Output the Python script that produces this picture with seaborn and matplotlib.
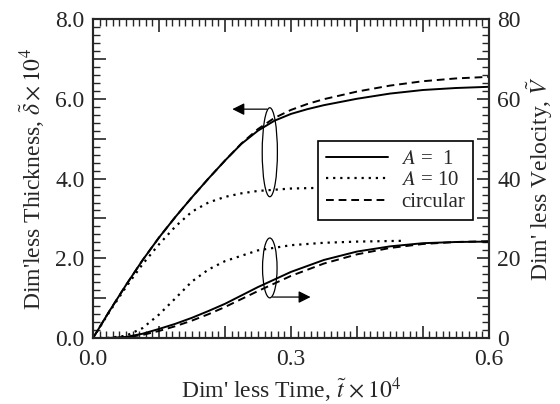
import numpy as np
import pandas as pd
import seaborn as sns
import matplotlib.pyplot as plt
from matplotlib.patches import Ellipse
from matplotlib.lines import Line2D
from matplotlib.ticker import MultipleLocator, FuncFormatter

# dati (tempo adimensionale x1e4)
t = [0, 0.025, 0.05, 0.075, 0.1, 0.125, 0.15, 0.175, 0.2, 0.225, 0.25,
     0.275, 0.3, 0.325, 0.35, 0.4, 0.45, 0.5, 0.55, 0.6]
spessore_A1 = [0, 0.68, 1.33, 1.95, 2.52, 3.04, 3.53, 4.0, 4.45, 4.87, 5.2,
               5.45, 5.62, 5.74, 5.84, 6.0, 6.13, 6.22, 6.27, 6.3]
spessore_circ = [0, 0.68, 1.33, 1.95, 2.52, 3.04, 3.53, 4.0, 4.45, 4.88, 5.24,
                 5.52, 5.72, 5.87, 5.99, 6.18, 6.33, 6.44, 6.51, 6.55]

t_A10 = [0, 0.025, 0.05, 0.075, 0.1, 0.125, 0.15, 0.175, 0.2, 0.225, 0.25,
         0.3, 0.35, 0.4, 0.47]
spessore_A10 = [0, 0.66, 1.28, 1.85, 2.35, 2.8, 3.17, 3.4, 3.54, 3.63, 3.69,
                3.75, 3.77, 3.78, 3.78]

t_v = [0, 0.025, 0.05, 0.075, 0.1, 0.125, 0.15, 0.175, 0.2, 0.25, 0.3,
       0.35, 0.4, 0.45, 0.5, 0.55, 0.6]
vel_A1 = [0, 0.05, 0.3, 1.1, 2.3, 3.6, 5.1, 6.8, 8.6, 12.8, 16.6,
          19.6, 21.7, 23.0, 23.8, 24.1, 24.2]
vel_circ = [0, 0.03, 0.2, 0.8, 1.8, 3.0, 4.4, 6.0, 7.8, 11.8, 15.6,
            18.7, 21.0, 22.6, 23.6, 24.1, 24.3]

t_v10 = [0, 0.025, 0.05, 0.075, 0.1, 0.125, 0.15, 0.175, 0.2, 0.25, 0.3,
         0.35, 0.4, 0.47]
vel_A10 = [0, 0.1, 0.6, 2.5, 5.9, 10, 14.2, 17.2, 19.3, 22, 23.3,
           23.9, 24.2, 24.4]

etichette = ['$A$ =  1', '$A$ = 10', 'circular']

sns.set_style('ticks')
plt.rcParams['font.family'] = ['Liberation Serif', 'DejaVu Serif']
plt.rcParams['mathtext.fontset'] = 'stix'

stili = {'solid': '-', 'dotted': (0, (1, 2.2)), 'dashed': (0, (4, 2.5))}
lw = 1.4

fig = plt.figure(figsize=(5.6, 4.04), dpi=100)
ax = fig.add_axes([0.166, 0.163, 0.707, 0.79])
ax2 = ax.twinx()

sns.lineplot(x=t, y=spessore_A1, ax=ax, color='k', lw=lw, linestyle=stili['solid'])
sns.lineplot(x=t_A10, y=spessore_A10, ax=ax, color='k', lw=1.6, linestyle=stili['dotted'])
sns.lineplot(x=t, y=spessore_circ, ax=ax, color='k', lw=lw, linestyle=stili['dashed'])

sns.lineplot(x=t_v, y=vel_A1, ax=ax2, color='k', lw=lw, linestyle=stili['solid'])
sns.lineplot(x=t_v10, y=vel_A10, ax=ax2, color='k', lw=1.6, linestyle=stili['dotted'])
sns.lineplot(x=t_v, y=vel_circ, ax=ax2, color='k', lw=lw, linestyle=stili['dashed'])

ax.set_xlim(0, 0.6)
ax.set_ylim(0, 8.0)
ax2.set_ylim(0, 80)

fs = 17
ax.xaxis.set_major_locator(MultipleLocator(0.1))
ax.xaxis.set_minor_locator(MultipleLocator(0.01))
ax.xaxis.set_major_formatter(FuncFormatter(
    lambda v, p: f'{v:.1f}' if abs(round(v / 0.3) * 0.3 - v) < 1e-6 else ''))
ax.yaxis.set_major_locator(MultipleLocator(1.0))
ax.yaxis.set_minor_locator(MultipleLocator(0.2))
ax.yaxis.set_major_formatter(FuncFormatter(
    lambda v, p: f'{v:.1f}' if round(v) % 2 == 0 else ''))
ax2.yaxis.set_major_locator(MultipleLocator(10))
ax2.yaxis.set_minor_locator(MultipleLocator(2))
ax2.yaxis.set_major_formatter(FuncFormatter(
    lambda v, p: f'{v:.0f}' if round(v) % 20 == 0 else ''))

ax.tick_params(axis='x', which='both', direction='in', top=True, labelsize=fs, pad=8)
ax.tick_params(axis='y', which='both', direction='in', right=False, labelsize=fs, pad=6)
ax2.tick_params(axis='y', which='both', direction='in', labelsize=fs, pad=6)
for a in (ax, ax2):
    a.tick_params(which='major', length=9, width=1.2)
    a.tick_params(which='minor', length=5, width=1.0)
    for s in a.spines.values():
        s.set_linewidth(1.5)

ax.set_xlabel(r"Dim' less Time, $\tilde{t}\,\times 10^4$", fontsize=fs, labelpad=4)
ax.set_ylabel(r"Dim'less Thickness, $\tilde{\delta}\times 10^4$", fontsize=fs, labelpad=6)
ax2.set_ylabel(r"Dim' less Velocity, $\tilde{V}$", fontsize=fs, labelpad=3)

# ellissi e frecce
ax.add_patch(Ellipse((0.268, 4.66), 0.023, 2.23, fill=False, lw=0.9, ec='k'))
ax.add_patch(Ellipse((0.268, 1.76), 0.022, 1.5, fill=False, lw=0.9, ec='k'))
ax.annotate('', xy=(0.207, 5.74), xytext=(0.268, 5.74),
            arrowprops=dict(arrowstyle='-|>', color='k', lw=0.9, mutation_scale=18))
ax.annotate('', xy=(0.334, 1.03), xytext=(0.268, 1.03),
            arrowprops=dict(arrowstyle='-|>', color='k', lw=0.9, mutation_scale=18))

maniglie = [Line2D([], [], color='k', lw=lw, linestyle=stili['solid']),
            Line2D([], [], color='k', lw=1.6, linestyle=stili['dotted']),
            Line2D([], [], color='k', lw=lw, linestyle=stili['dashed'])]
leg = ax2.legend(maniglie, etichette, loc='upper right', bbox_to_anchor=(0.96, 0.618),
                 borderaxespad=0, fontsize=15, handlelength=3.0, fancybox=False,
                 framealpha=1, edgecolor='k', labelspacing=0.1, borderpad=0.4,
                 handletextpad=0.6)
leg.get_frame().set_linewidth(1.2)

fig.savefig('out.png', dpi=100)
